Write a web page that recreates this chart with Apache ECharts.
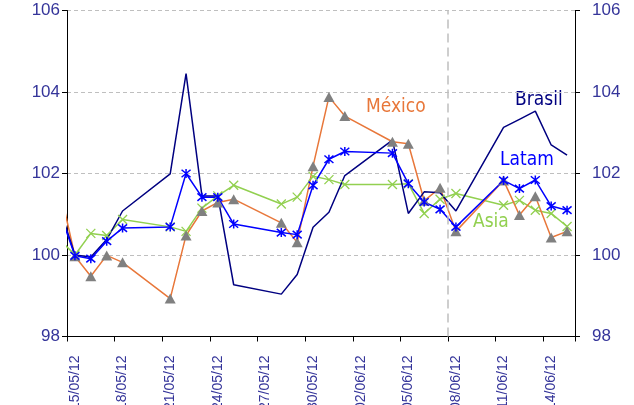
<!DOCTYPE html>
<html>
<head>
<meta charset="utf-8">
<script src="https://cdn.jsdelivr.net/npm/echarts@6/dist/echarts.min.js"></script>
<style>html,body{margin:0;padding:0;background:#fff;}#c{width:634px;height:405px;}</style>
</head>
<body>
<div id="c"></div>
<script>
// Business days with data (dd/mm/yy)
const dates = ['14/05/12','15/05/12','16/05/12','17/05/12','18/05/12','21/05/12','22/05/12','23/05/12','24/05/12','25/05/12',
  '28/05/12','29/05/12','30/05/12','31/05/12','01/06/12','04/06/12','05/06/12','06/06/12','07/06/12','08/06/12',
  '11/06/12','12/06/12','13/06/12','14/06/12','15/06/12'];
const brasil = [101.2,100.0,99.95,100.38,101.08,101.99,104.45,101.45,101.45,99.27,
  99.04,99.52,100.68,101.05,101.95,102.82,101.02,101.55,101.53,101.08,
  103.13,103.33,103.53,102.7,102.45];
const mexico = [101.7,99.97,99.48,99.99,99.82,98.93,100.48,101.08,101.29,101.37,
  100.79,100.31,102.18,103.88,103.41,102.78,102.73,101.33,101.65,100.58,
  101.83,100.98,101.44,100.43,100.58];
const latam = [101.1,99.98,99.91,100.34,100.66,100.69,102.0,101.42,101.42,100.76,
  100.55,100.5,101.71,102.35,102.54,102.5,101.75,101.3,101.12,100.69,
  101.83,101.63,101.84,101.2,101.1];
const asia = [100.4,100.0,100.53,100.48,100.87,100.69,100.58,101.15,101.45,101.71,
  101.25,101.42,101.93,101.85,101.73,101.73,101.75,101.02,101.37,101.51,
  101.22,101.34,101.1,101.02,100.7];
// Axis: calendar days from 15/05/12 to 15/06/12
const axisStart = '15/05/12';
const axisDays = 32;
const yTicks = [98, 100, 102, 104, 106];
const seriesNames = ['Brasil', 'México', 'Latam', 'Asia'];

function parse(s) { const p = s.split('/'); return Date.UTC(2000 + +p[2], +p[1] - 1, +p[0]); }
const t0 = parse(axisStart);
const DAY = 86400000;
const dayPos = d => (parse(d) - t0) / DAY + 0.5;
const labelDates = [];
for (let i = 0; i < axisDays; i++) {
  const d = new Date(t0 + i * DAY);
  const dd = String(d.getUTCDate()).padStart(2, '0');
  const mm = String(d.getUTCMonth() + 1).padStart(2, '0');
  labelDates.push(dd + '/' + mm + '/12');
}
const mk = arr => arr.map((v, i) => [dayPos(dates[i]), v]);

const labelColor = '#35359A';
const asteriskPath = 'path://M0,0L10,10M10,0L0,10M5,-1L5,11';
const xPath = 'path://M0,0L10,10M10,0L0,10';
const tagFont = '19px "DejaVu Sans Condensed", "DejaVu Sans", sans-serif';

const chart = echarts.init(document.getElementById('c'), null, {renderer: 'canvas'});
chart.setOption({
  animation: false,
  backgroundColor: '#fff',
  grid: {left: 67, right: 59, top: 10.5, bottom: 68.5, containLabel: false, outerBoundsMode: 'none'},
  xAxis: [{
    type: 'value', min: 0, max: axisDays, interval: 3, position: 'bottom',
    axisLine: {show: true, lineStyle: {color: '#000', width: 1}},
    axisTick: {show: true, inside: false, length: 5, lineStyle: {color: '#000'}},
    axisLabel: {show: false},
    splitLine: {show: false}
  }, {
    type: 'category', data: labelDates, boundaryGap: true, position: 'bottom',
    axisLine: {show: false}, axisTick: {show: false}, splitLine: {show: false},
    axisLabel: {interval: 2, rotate: 90, margin: 19, color: labelColor, fontSize: 14, fontFamily: 'Liberation Sans, Arial, sans-serif', hideOverlap: false}
  }],
  yAxis: [{
    type: 'value', min: 98, max: 106, interval: 2, position: 'left',
    axisLine: {show: true, lineStyle: {color: '#000', width: 1}},
    axisTick: {show: true, length: 5, lineStyle: {color: '#000'}},
    axisLabel: {margin: 7, color: labelColor, fontSize: 17, fontFamily: 'Liberation Sans, Arial, sans-serif'},
    splitLine: {show: true, lineStyle: {color: '#BFBFBF', type: [4, 3], width: 1}}
  }, {
    type: 'value', min: 98, max: 106, interval: 2, position: 'right',
    axisLine: {show: true, lineStyle: {color: '#000', width: 1}},
    axisTick: {show: true, length: 5, lineStyle: {color: '#000'}},
    axisLabel: {margin: 17, color: labelColor, fontSize: 17, fontFamily: 'Liberation Sans, Arial, sans-serif'},
    splitLine: {show: false}
  }],
  series: [{
    name: seriesNames[3], type: 'line', data: mk(asia), clip: true,
    symbol: xPath, symbolSize: 9,
    itemStyle: {color: 'none', borderColor: '#92D050', borderWidth: 1.3},
    lineStyle: {color: '#92D050', width: 1.5},
    markLine: {
      silent: true, symbol: 'none', label: {show: false},
      lineStyle: {color: '#BFBFBF', type: [9, 5], width: 1.5},
      data: [{xAxis: dayPos('08/06/12') - 0.5}]
    }
  }, {
    name: seriesNames[1], type: 'line', data: mk(mexico), clip: true,
    symbol: 'triangle', symbolSize: [11, 10],
    itemStyle: {color: '#808080'},
    lineStyle: {color: '#E8773A', width: 1.5}
  }, {
    name: seriesNames[0], type: 'line', data: mk(brasil), clip: true,
    symbol: 'none', showSymbol: false,
    lineStyle: {color: '#000080', width: 1.5}
  }, {
    name: seriesNames[2], type: 'line', data: mk(latam), clip: true,
    symbol: asteriskPath, symbolSize: 9,
    itemStyle: {color: 'none', borderColor: '#0000FF', borderWidth: 1.5},
    lineStyle: {color: '#0000FF', width: 1.5}
  }],
  graphic: [
    {type: 'text', left: 366, top: 98, style: {text: 'México', fill: '#E8773A', font: tagFont}},
    {type: 'text', left: 515, top: 91, style: {text: 'Brasil', fill: '#000080', font: tagFont}},
    {type: 'text', left: 500, top: 151, style: {text: 'Latam', fill: '#0000FF', font: tagFont}},
    {type: 'text', left: 473, top: 213, style: {text: 'Asia', fill: '#92D050', font: tagFont}}
  ]
});
</script>
</body>
</html>
